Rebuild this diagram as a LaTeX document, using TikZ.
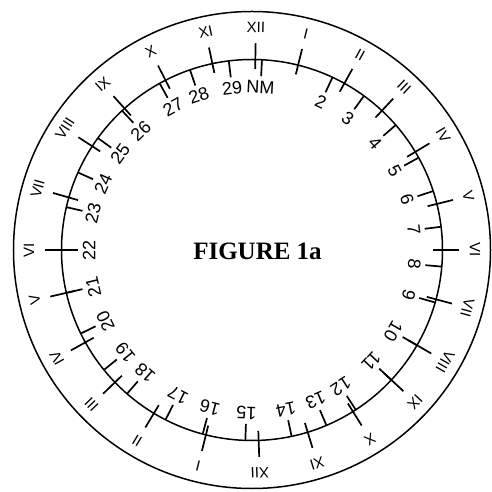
\documentclass[tikz,border=0pt]{standalone}
\usepackage{fontspec}
\setmainfont{Liberation Serif}
\setsansfont{Liberation Sans}
\begin{document}
\begin{tikzpicture}[x=1pt, y=1pt,
  ring/.style={line width=1.5pt},
  tick/.style={line width=1.7pt},
  hour/.style={font=\sffamily\fontsize{15}{15}\selectfont, inner sep=0pt},
  day/.style={font=\sffamily\fontsize{18}{18}\selectfont, inner sep=0pt}]
\useasboundingbox (-252,-242) rectangle (239,250);
\draw[ring] (0,0) circle (238.5);
\draw[ring] (0,0) circle (190.5);
% hours, twice round
\foreach \a/\t [count=\n] in {89/XII, 76/I, 61/II, 47/III, 31/IV, 14/V, 0/VI,
  -15/VII, -30/VIII, -43/IX, -58/X, -73/XI, -88/XII, -104/I, -121/II, -136/III,
  -151/IV, -167/V, 180/VI, 164/VII, 147/VIII, 132/IX, 117/X, 102/XI}
{
  \draw[tick] (\a:181) -- (\a:207);
  \node[hour, rotate=\a-90] (h\n) at (\a:223) {\t};
}
% days of the moon
\foreach \a/\t [count=\n] in {87/NM, 65/2, 54/3, 41/4, 29/5, 18/6, 7/7, -5/8,
  -16/9, -30/10, -43/11, -57/12, -67/13, -78/14, -92/15, -105/16, -117/17,
  -131/18, -141/19, -154/20, -167/21, 180/22, 167/23, 156/24, 144/25, 133/26,
  119/27, 109/28, 97/29}
{
  \draw[tick] (\a:174) -- (\a:190);
  \node[day, rotate=\a-90] (d\n) at (\a:163) {\t};
}
\node[font=\bfseries\fontsize{25}{25}\selectfont] (title) at (5.5,-1) {FIGURE 1a};
\end{tikzpicture}
\end{document}
